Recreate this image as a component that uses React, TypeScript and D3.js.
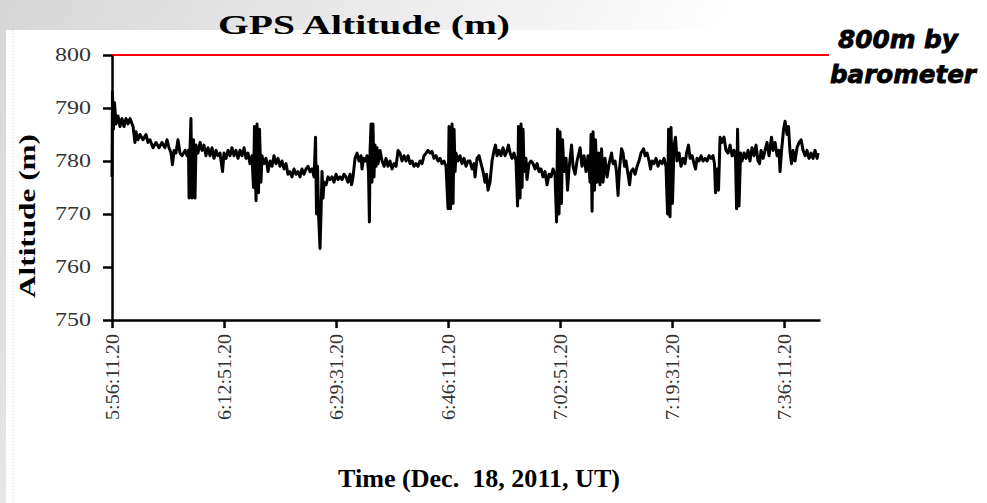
import React, { useEffect, useRef } from 'react';
import * as d3 from 'd3';

// GPS altitude samples: [seconds after 5:56:11.20 UT, altitude m]
const part1: [number, number][] = [
  [0, 777], [4, 793], [13, 786], [22, 791], [36, 787], [54, 788.5], [71, 786.5], [89, 788],
  [107, 786.5], [125, 788], [143, 787], [161, 788], [188, 786.5], [205, 783.5], [214, 785.5],
  [232, 784], [250, 785], [277, 784], [304, 785], [321, 783.5], [339, 784], [366, 782.5],
  [393, 783.5], [420, 782.5], [446, 783.5], [473, 782.5], [491, 784], [509, 782.5], [527, 781.5],
  [540, 779.3], [554, 782], [571, 781.5], [589, 784], [607, 781.5], [625, 781], [652, 782],
  [670, 781], [683, 782], [688, 773], [696, 782], [705, 788], [714, 773], [728, 784], [741, 773],
  [750, 783], [768, 781.5], [786, 783.5], [804, 782], [821, 783], [839, 781], [857, 782.5],
  [875, 781], [893, 782.5], [911, 780.5], [929, 782], [946, 781], [964, 781.5], [987, 778],
  [1000, 781.5], [1018, 780.5], [1036, 782],
];

const part2: [number, number][] = [
  [1054, 781], [1071, 782.5], [1089, 781], [1107, 782], [1125, 780.5], [1143, 782], [1161, 781],
  [1179, 782.5], [1196, 780.5], [1214, 781.5], [1232, 779.5], [1250, 781], [1263, 775],
  [1272, 786.5], [1286, 772.5], [1295, 787], [1308, 774], [1317, 786], [1330, 776], [1339, 781],
  [1357, 779.5], [1375, 780.5], [1393, 778], [1411, 780], [1429, 779], [1446, 781], [1464, 779.5],
  [1482, 780.5], [1500, 779], [1518, 780], [1536, 778.5], [1554, 779.5], [1571, 777.5], [1589, 778],
  [1607, 777], [1625, 778.5], [1643, 777.5], [1661, 778], [1679, 777], [1696, 778.5], [1714, 777.5],
  [1732, 778.5], [1750, 779], [1768, 778], [1786, 778.5], [1804, 777], [1817, 784.5], [1826, 770],
  [1835, 779], [1844, 770], [1857, 763.5], [1866, 770], [1875, 778], [1884, 773], [1893, 776],
  [1911, 775.5], [1929, 777], [1946, 776.5], [1964, 777], [1982, 776], [2000, 777.5],
  [2018, 776.5], [2036, 777], [2054, 776.5], [2071, 777.5],
];

const part3: [number, number][] = [
  [2089, 777], [2107, 776], [2125, 777.5], [2139, 775.5], [2152, 777], [2170, 780.5], [2188, 781.5],
  [2205, 780], [2223, 781], [2232, 778.5], [2246, 780.5], [2259, 780], [2277, 781], [2290, 778],
  [2298, 768.5], [2304, 782], [2313, 787], [2321, 776], [2330, 787], [2339, 777], [2348, 783],
  [2357, 779], [2366, 782.5], [2375, 779.5], [2393, 782], [2411, 780], [2429, 779], [2446, 780.5],
  [2464, 779], [2482, 780], [2500, 778.5], [2518, 779.5], [2536, 779], [2554, 782], [2571, 781.5],
  [2589, 780], [2607, 781], [2625, 780], [2643, 781], [2661, 779.5], [2679, 780], [2696, 779],
  [2714, 779.5], [2732, 779], [2750, 780], [2768, 779.5], [2786, 781], [2804, 781.5], [2821, 782],
  [2839, 781.5], [2857, 781.8], [2875, 780.5], [2893, 781], [2911, 780], [2929, 780.5],
  [2946, 779.5], [2964, 780], [2982, 779], [3000, 771], [3009, 786.5], [3022, 771], [3036, 787],
  [3045, 772], [3054, 786], [3063, 778], [3071, 781.5], [3089, 780], [3107, 781], [3125, 779.5],
  [3143, 780.5], [3161, 779], [3179, 780],
];

const part4: [number, number][] = [
  [3196, 780], [3214, 778.5], [3232, 779.5], [3241, 777], [3259, 780.5], [3277, 781], [3295, 779.5],
  [3313, 778], [3330, 776], [3344, 777.5], [3357, 774.5], [3375, 776], [3393, 780], [3411, 782],
  [3424, 783], [3438, 781], [3455, 782], [3473, 781], [3491, 782.5], [3509, 781], [3527, 782],
  [3540, 783], [3554, 781.5], [3571, 780.5], [3589, 781.5], [3607, 780], [3621, 771.5],
  [3629, 786.5], [3643, 773], [3652, 787], [3661, 775], [3670, 786], [3679, 778], [3696, 780.5],
  [3705, 776.5], [3723, 779.5], [3741, 780], [3759, 779.5], [3777, 778.5], [3795, 779.5],
  [3813, 778], [3830, 778.5], [3848, 777], [3866, 778], [3884, 775.5], [3902, 777.5], [3920, 777],
  [3938, 778.5], [3955, 777.5], [3969, 768.5], [3978, 786], [3991, 770], [4000, 785.5], [4013, 772],
  [4022, 784], [4036, 778], [4054, 780.5], [4067, 774.5], [4080, 778.5], [4103, 783], [4116, 779],
  [4134, 777.5], [4152, 780], [4179, 782.5], [4196, 779], [4214, 781], [4232, 778], [4250, 781],
];

const part5: [number, number][] = [
  [4268, 776], [4277, 785], [4286, 770.5], [4295, 785.5], [4308, 774.5], [4317, 784], [4330, 776],
  [4344, 781.5], [4357, 775.5], [4371, 782.3], [4384, 776], [4402, 780.5], [4420, 777],
  [4438, 779.5], [4460, 781.5], [4473, 779.5], [4491, 780], [4504, 778], [4518, 773.5],
  [4531, 778.5], [4549, 782.3], [4563, 781.5], [4576, 779], [4589, 780], [4607, 777.5],
  [4621, 775.5], [4634, 778], [4652, 778.5], [4670, 777.5], [4688, 779], [4705, 780], [4723, 781.5],
  [4746, 782.3], [4759, 781], [4777, 781.5], [4795, 780], [4808, 778.5], [4821, 780], [4839, 779.5],
  [4857, 780.5], [4875, 779], [4893, 780], [4911, 779.5], [4929, 780.5], [4946, 779], [4960, 770],
  [4969, 786], [4982, 769.5], [4991, 786.3], [5004, 772], [5018, 783], [5031, 784.5], [5045, 780],
  [5063, 781.5], [5080, 779], [5098, 780.5], [5116, 779.5], [5130, 781.5], [5147, 783],
  [5161, 780.5], [5179, 781], [5196, 779.5], [5210, 778.5], [5223, 780.5], [5241, 780], [5259, 781],
  [5277, 780], [5295, 780.5], [5313, 780], [5330, 781],
];

const part6: [number, number][] = [
  [5348, 780.5], [5366, 781], [5379, 779.5], [5388, 774], [5402, 778.5], [5415, 774.5],
  [5429, 784.5], [5446, 783.5], [5464, 784.5], [5482, 782], [5500, 781.5], [5518, 783], [5536, 781],
  [5554, 782], [5567, 780.5], [5576, 771], [5585, 786], [5598, 771.5], [5612, 781.5], [5625, 780],
  [5643, 781.5], [5661, 780.5], [5679, 782], [5696, 780], [5714, 782.5], [5732, 781], [5750, 783],
  [5768, 780], [5781, 779.5], [5795, 782], [5813, 780.5], [5830, 782], [5848, 783.5], [5866, 781],
  [5888, 784.5], [5902, 782], [5920, 783.5], [5938, 781], [5955, 782], [5964, 778], [5978, 782],
  [5996, 786], [6009, 787.5], [6027, 785], [6040, 786.5], [6054, 781.5], [6067, 779.5], [6080, 782],
  [6098, 780], [6116, 782.5], [6134, 783.5], [6152, 784], [6170, 782], [6188, 781], [6205, 782],
  [6223, 780.5], [6241, 781.5], [6259, 780.5], [6277, 782], [6295, 780.5], [6304, 781.5],
];

const timeTicks = [0, 1000, 2000, 3000, 4000, 5000, 6000];
const timeLabels = ['5:56:11.20', '6:12:51.20', '6:29:31.20', '6:46:11.20', '7:02:51.20', '7:19:31.20', '7:36:11.20'];
const altTicks = [750, 760, 770, 780, 790, 800];
const baroAltitude = 800;
const lastSec = 6321;

const serif = '"Liberation Serif", "Times New Roman", serif';

const App = () => {
  const svgRef = useRef<SVGSVGElement>(null);

  useEffect(() => {
    const svg = d3.select(svgRef.current);
    svg.selectAll('*').remove();
    const width = 987;
    const height = 503;

    // slide background
    const grad = svg.append('defs').append('linearGradient').attr('id', 'bg')
      .attr('x1', 0).attr('x2', 1).attr('y1', 0).attr('y2', 0.3);
    grad.append('stop').attr('offset', 0).attr('stop-color', '#d6d6d6');
    grad.append('stop').attr('offset', 0.7).attr('stop-color', '#ffffff');
    svg.append('rect').attr('width', width).attr('height', height).attr('fill', 'url(#bg)');
    svg.append('rect').attr('x', 6).attr('y', 30).attr('width', width - 6).attr('height', height - 30).attr('fill', '#fff');
    svg.append('line').attr('x1', 13).attr('x2', 13).attr('y1', 30).attr('y2', height)
      .attr('stroke', '#d0d0d0').attr('stroke-dasharray', '1,2');

    const x = d3.scaleLinear().domain([0, lastSec]).range([112, 820]);
    const y = d3.scaleLinear().domain([750, 800]).range([320, 55]);

    const data = [...part1, ...part2, ...part3, ...part4, ...part5, ...part6];

    // barometer reference
    svg.append('line')
      .attr('x1', x(0)).attr('x2', 829)
      .attr('y1', y(baroAltitude)).attr('y2', y(baroAltitude))
      .attr('stroke', '#ff0000').attr('stroke-width', 2);

    const line = d3.line<[number, number]>().x((d) => x(d[0])).y((d) => y(d[1]));
    svg.append('path').datum(data)
      .attr('d', line)
      .attr('fill', 'none').attr('stroke', '#000').attr('stroke-width', 3)
      .attr('stroke-linejoin', 'round');

    // y axis
    const yAxis = svg.append('g').attr('transform', `translate(${x(0)},0)`)
      .call(d3.axisLeft(y).tickValues(altTicks).tickSize(9).tickSizeOuter(0).tickPadding(12));
    yAxis.select('.domain').attr('stroke-width', 2.5);
    yAxis.selectAll('.tick line').attr('stroke-width', 2.5);
    yAxis.selectAll('.tick text')
      .attr('font-family', serif).attr('font-size', 18).attr('fill', '#333')
      .attr('textLength', 36).attr('lengthAdjust', 'spacingAndGlyphs');

    // x axis
    const xAxis = svg.append('g').attr('transform', `translate(0,${y(750)})`)
      .call(d3.axisBottom(x).tickValues(timeTicks).tickSize(8).tickSizeOuter(0)
        .tickFormat((d, i) => timeLabels[i]));
    xAxis.select('.domain').attr('stroke-width', 2.5);
    xAxis.selectAll('.tick line').attr('stroke-width', 2.5);
    xAxis.selectAll('.tick text')
      .attr('font-family', serif).attr('font-size', 18).attr('fill', '#333')
      .attr('text-anchor', 'end')
      .attr('transform', 'rotate(-90)')
      .attr('x', -14).attr('y', 0).attr('dy', '0.35em')
      .attr('textLength', 86).attr('lengthAdjust', 'spacingAndGlyphs');

    // titles
    svg.append('text').attr('x', 364).attr('y', 34).attr('text-anchor', 'middle')
      .attr('font-family', serif).attr('font-weight', 'bold').attr('font-size', 28)
      .attr('textLength', 292).attr('lengthAdjust', 'spacingAndGlyphs')
      .text('GPS Altitude (m)');

    svg.append('text').attr('transform', 'translate(35,216) rotate(-90)').attr('text-anchor', 'middle')
      .attr('font-family', serif).attr('font-weight', 'bold').attr('font-size', 24)
      .attr('textLength', 164).attr('lengthAdjust', 'spacingAndGlyphs')
      .text('Altitude (m)');

    svg.append('text').attr('x', 479).attr('y', 487).attr('text-anchor', 'middle')
      .attr('font-family', serif).attr('font-weight', 'bold').attr('font-size', 26)
      .attr('textLength', 282).attr('lengthAdjust', 'spacingAndGlyphs')
      .attr('xml:space', 'preserve')
      .text('Time (Dec.  18, 2011, UT)');

    // annotation
    const note = svg.append('g')
      .attr('font-family', '"DejaVu Sans", sans-serif').attr('font-weight', 'bold')
      .attr('font-style', 'italic').attr('font-size', 24).attr('fill', '#000')
      .attr('stroke', '#000').attr('stroke-width', 0.8);
    note.append('text').attr('x', 838).attr('y', 48)
      .attr('textLength', 120).attr('lengthAdjust', 'spacingAndGlyphs').text('800m by');
    note.append('text').attr('x', 830).attr('y', 83)
      .attr('textLength', 146).attr('lengthAdjust', 'spacingAndGlyphs').text('barometer');
  }, []);

  return (
    <svg ref={svgRef} width={987} height={503}
      style={{ position: 'absolute', left: 0, top: 0, display: 'block' }} />
  );
};

export default App;
